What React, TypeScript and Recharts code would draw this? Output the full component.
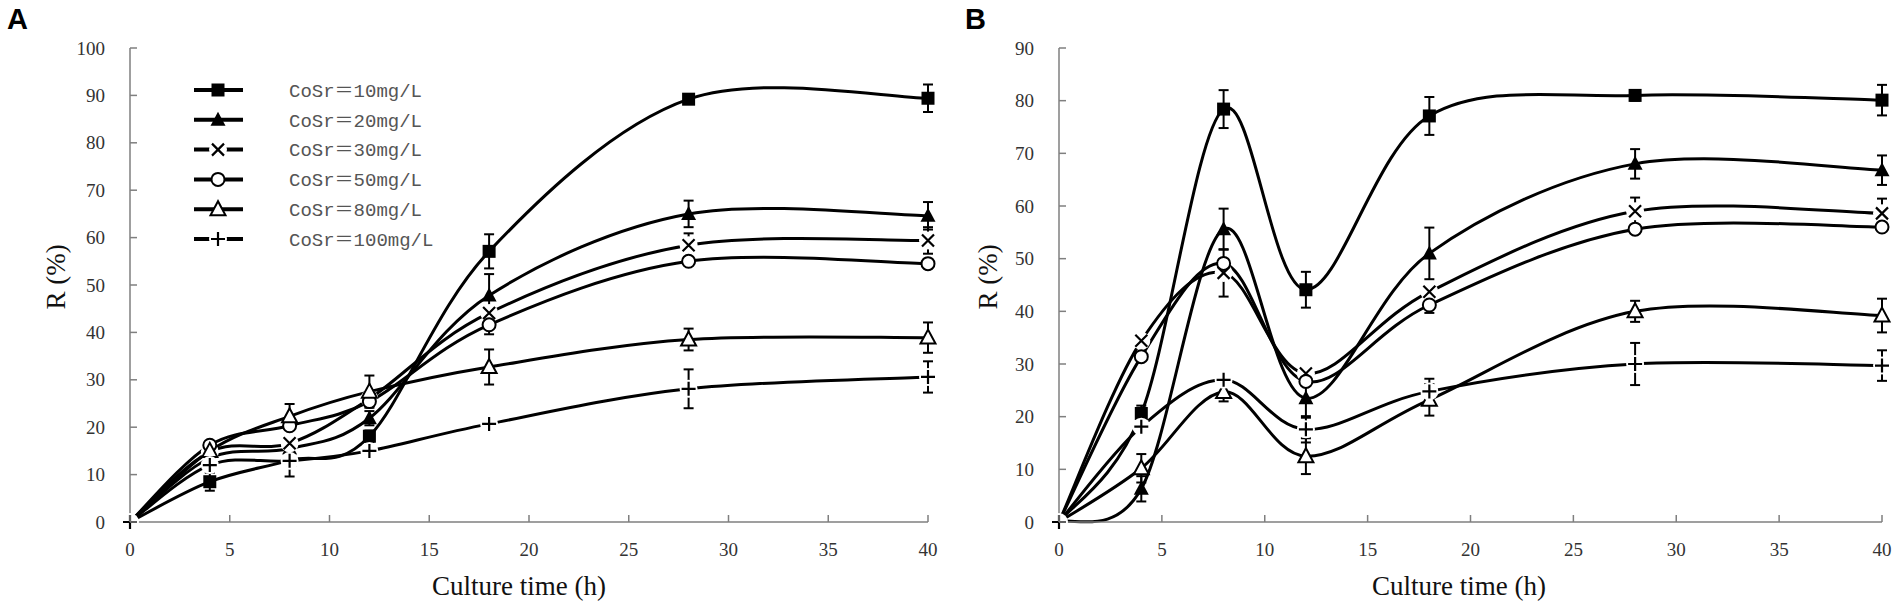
import React from 'react';
import { LineChart, Line, XAxis, YAxis, ErrorBar, Legend } from 'recharts';

// ---------- data ----------
const times = [0, 4, 8, 12, 18, 28, 40];
const xTicks = [0, 5, 10, 15, 20, 25, 30, 35, 40];
const yTicksA = [0, 10, 20, 30, 40, 50, 60, 70, 80, 90, 100];
const yTicksB = [0, 10, 20, 30, 40, 50, 60, 70, 80, 90];
const seriesNames = ['CoSr＝10mg/L', 'CoSr＝20mg/L', 'CoSr＝30mg/L', 'CoSr＝50mg/L', 'CoSr＝80mg/L', 'CoSr＝100mg/L'];
const markerKinds = ['square', 'triangle', 'cross', 'circle', 'openTriangle', 'plus'];

// Panel A
const a10 = [0, 8.5, 13, 18.1, 57.1, 89.2, 89.4];
const a10Err = [0, 1.9, 0, 1.2, 3.6, 1.0, 2.9];
const a20 = [0, 13.5, 15.5, 21.9, 47.8, 65.0, 64.6];
const a20Err = [0, 0, 0, 1.5, 4.5, 2.8, 2.9];
const a30 = [0, 14.8, 16.6, 26.0, 44.1, 58.4, 59.4];
const a30Err = [0, 0, 0, 0, 0, 2.5, 2.8];
const a50 = [0, 16.2, 20.3, 25.4, 41.6, 55.0, 54.5];
const a50Err = [0, 0, 0, 0, 2.0, 0.5, 1.0];
const a80 = [0, 15.0, 22.3, 27.5, 32.7, 38.5, 38.9];
const a80Err = [0, 0, 2.6, 3.4, 3.7, 2.3, 3.2];
const a100 = [0, 12.0, 12.9, 15.0, 20.7, 28.1, 30.6];
const a100Err = [0, 0, 3.3, 0, 0, 4.1, 3.3];

// Panel B
const b10 = [0, 20.6, 78.4, 44.1, 77.1, 81.0, 80.1];
const b10Err = [0, 1.5, 3.6, 3.4, 3.6, 1.0, 2.9];
const b20 = [0, 6.3, 55.6, 23.5, 51.0, 68.0, 66.8];
const b20Err = [0, 2.4, 3.9, 3.7, 4.9, 2.8, 2.8];
const b30 = [0, 34.4, 47.3, 28.2, 43.7, 59.0, 58.6];
const b30Err = [0, 0, 4.5, 0, 0, 2.6, 2.8];
const b50 = [0, 31.4, 49.1, 26.7, 41.2, 55.6, 56.0];
const b50Err = [0, 0, 0, 0, 1.5, 0, 0];
const b80 = [0, 10.2, 24.7, 12.5, 23.2, 40.0, 39.2];
const b80Err = [0, 2.7, 1.8, 3.4, 3.0, 2.0, 3.2];
const b100 = [0, 18.1, 27.0, 17.6, 24.8, 30.0, 29.7];
const b100Err = [0, 0, 0, 2.5, 2.4, 4.0, 2.9];

const panelAValues = [a10, a20, a30, a50, a80, a100];
const panelAErrors = [a10Err, a20Err, a30Err, a50Err, a80Err, a100Err];
const panelBValues = [b10, b20, b30, b50, b80, b100];
const panelBErrors = [b10Err, b20Err, b30Err, b50Err, b80Err, b100Err];

function buildRows(values: number[][], errors: number[][]) {
  return times.map((t, i) => {
    const row: any = { t };
    values.forEach((v, k) => {
      row['s' + k] = v[i];
      row['e' + k] = errors[k][i];
    });
    return row;
  });
}

const rowsA = buildRows(panelAValues, panelAErrors);
const rowsB = buildRows(panelBValues, panelBErrors);

// ---------- smooth curve (Excel-like Catmull-Rom) ----------
const smoothCurve: any = (context: any) => {
  let xs: number[] = [];
  let ys: number[] = [];
  return {
    areaStart() {},
    areaEnd() {},
    lineStart() {
      xs = [];
      ys = [];
    },
    point(x: number, y: number) {
      xs.push(+x);
      ys.push(+y);
    },
    lineEnd() {
      const n = xs.length;
      if (!n) return;
      context.moveTo(xs[0], ys[0]);
      for (let i = 0; i < n - 1; i++) {
        const p0 = Math.max(i - 1, 0);
        const p3 = Math.min(i + 2, n - 1);
        const c1x = xs[i] + (xs[i + 1] - xs[p0]) / 6;
        const c1y = ys[i] + (ys[i + 1] - ys[p0]) / 6;
        const c2x = xs[i + 1] - (xs[p3] - xs[i]) / 6;
        const c2y = ys[i + 1] - (ys[p3] - ys[i]) / 6;
        context.bezierCurveTo(c1x, c1y, c2x, c2y, xs[i + 1], ys[i + 1]);
      }
    },
  };
};

// ---------- markers ----------
const INK = '#000';

function Marker({ kind, cx, cy }: { kind: string; cx: number; cy: number }) {
  switch (kind) {
    case 'square':
      return <rect x={cx - 6.5} y={cy - 6.5} width={13} height={13} fill={INK} />;
    case 'triangle':
      return <polygon points={`${cx},${cy - 8} ${cx - 7.5},${cy + 6} ${cx + 7.5},${cy + 6}`} fill={INK} />;
    case 'cross':
      return (
        <g>
          <circle cx={cx} cy={cy} r={9} fill="#fff" />
          <path d={`M${cx - 6},${cy - 6}L${cx + 6},${cy + 6}M${cx - 6},${cy + 6}L${cx + 6},${cy - 6}`} stroke={INK} strokeWidth={2.2} />
        </g>
      );
    case 'circle':
      return <circle cx={cx} cy={cy} r={6.5} fill="#fff" stroke={INK} strokeWidth={2} />;
    case 'openTriangle':
      return (
        <polygon
          points={`${cx},${cy - 8} ${cx - 7.5},${cy + 6} ${cx + 7.5},${cy + 6}`}
          fill="#fff"
          stroke={INK}
          strokeWidth={2}
          strokeLinejoin="miter"
        />
      );
    case 'plus':
    default:
      return (
        <g>
          <circle cx={cx} cy={cy} r={9} fill="#fff" />
          <path d={`M${cx - 7},${cy}H${cx + 7}M${cx},${cy - 7}V${cy + 7}`} stroke={INK} strokeWidth={2.2} />
        </g>
      );
  }
}

// ---------- axis ticks ----------
const AXIS_COLOR = '#7f7f7f';
const TICK_FONT = "'Liberation Serif', 'Times New Roman', serif";
const Y_TICK_MARGIN = 25;
const X_TICK_MARGIN = 21;

const YTick = (props: any) => {
  const { x, y, payload } = props;
  const ax = x + Y_TICK_MARGIN;
  return (
    <g>
      <line x1={ax} x2={ax + 7} y1={y} y2={y} stroke={AXIS_COLOR} strokeWidth={1.5} />
      <text x={x} y={y} dy="0.35em" textAnchor="end" fontFamily={TICK_FONT} fontSize={19} fill="#333">
        {payload.value}
      </text>
    </g>
  );
};

const XTick = (props: any) => {
  const { x, y, payload } = props;
  const ay = y - X_TICK_MARGIN;
  return (
    <g>
      <line x1={x} x2={x} y1={ay} y2={ay - 7} stroke={AXIS_COLOR} strokeWidth={1.5} />
      <text x={x} y={y} dy="0.71em" textAnchor="middle" fontFamily={TICK_FONT} fontSize={19} fill="#333">
        {payload.value}
      </text>
    </g>
  );
};

// ---------- legend ----------
const LegendBox = () => (
  <svg width={260} height={185} style={{ display: 'block' }}>
    {seriesNames.map((name, k) => {
      const cy = 15 + k * 29.8;
      return (
        <g key={name}>
          <line x1={4} x2={53} y1={cy} y2={cy} stroke={INK} strokeWidth={4} />
          <Marker kind={markerKinds[k]} cx={28} cy={cy} />
          <text
            x={99}
            y={cy}
            dy="0.36em"
            fontFamily="'Liberation Mono', 'Noto Sans CJK SC', monospace"
            fontSize={19}
            fill="#555"
          >
            {name}
          </text>
        </g>
      );
    })}
  </svg>
);

// ---------- panel ----------
function Panel({
  rows,
  yMax,
  yTicks,
  marginLeft,
  marginRight,
  letter,
  letterX,
  yLabelX,
  xLabelX,
  showLegend,
}: any) {
  return (
    <LineChart
      width={951}
      height={615}
      data={rows}
      margin={{ top: 48, right: marginRight, bottom: 63, left: marginLeft }}
    >
      <XAxis
        dataKey="t"
        type="number"
        domain={[0, 40]}
        ticks={xTicks}
        interval={0}
        height={30}
        tickSize={0}
        tickMargin={X_TICK_MARGIN}
        tickLine={false}
        axisLine={{ stroke: AXIS_COLOR, strokeWidth: 1.5 }}
        tick={<XTick />}
        label={{
          content: () => (
            <text
              x={xLabelX}
              y={595}
              textAnchor="middle"
              fontFamily={TICK_FONT}
              fontSize={27}
              fill="#111"
            >
              Culture time (h)
            </text>
          ),
        }}
      />
      <YAxis
        type="number"
        domain={[0, yMax]}
        ticks={yTicks}
        interval={0}
        width={60}
        tickSize={0}
        tickMargin={Y_TICK_MARGIN}
        tickLine={false}
        axisLine={{ stroke: AXIS_COLOR, strokeWidth: 1.5 }}
        tick={<YTick />}
        label={{
          content: () => (
            <g>
              <text
                transform={`translate(${yLabelX},277) rotate(-90)`}
                textAnchor="middle"
                dy="0.35em"
                fontFamily={TICK_FONT}
                fontSize={27}
                fill="#111"
              >
                R (%)
              </text>
              <text
                x={letterX}
                y={29}
                fontFamily="'Liberation Sans', Arial, sans-serif"
                fontWeight="bold"
                fontSize={29}
                fill="#000"
              >
                {letter}
              </text>
            </g>
          ),
        }}
      />
      {showLegend && (
        <Legend
          layout="horizontal"
          verticalAlign="middle"
          align="center"
          content={() => <LegendBox />}
          wrapperStyle={{ left: 190, top: 75, width: 260, height: 185 }}
        />
      )}
      {markerKinds.map((kind, k) => (
        <Line
          key={kind}
          dataKey={'s' + k}
          name={seriesNames[k]}
          type={smoothCurve}
          stroke={INK}
          strokeWidth={3}
          isAnimationActive={false}
          activeDot={false}
          dot={(p: any) =>
            kind !== 'plus' && p.index === 0 ? (
              <g key={`d${k}-${p.index}`} />
            ) : (
              <g key={`d${k}-${p.index}`}>
                <Marker kind={kind} cx={p.cx} cy={p.cy} />
              </g>
            )
          }
        >
          <ErrorBar
            dataKey={'e' + k}
            width={5}
            strokeWidth={2}
            stroke={INK}
            direction="y"
            isAnimationActive={false}
          />
        </Line>
      ))}
    </LineChart>
  );
}

export default function App() {
  return (
    <div style={{ position: 'absolute', left: 0, top: 0, width: 1902, height: 615, background: '#fff' }}>
      <div style={{ position: 'absolute', left: 0, top: 0 }}>
        <Panel
          rows={rowsA}
          yMax={100}
          yTicks={yTicksA}
          marginLeft={70}
          marginRight={23}
          letter="A"
          letterX={7}
          yLabelX={56}
          xLabelX={519}
          showLegend
        />
      </div>
      <div style={{ position: 'absolute', left: 951, top: 0 }}>
        <Panel
          rows={rowsB}
          yMax={90}
          yTicks={yTicksB}
          marginLeft={48}
          marginRight={20}
          letter="B"
          letterX={14}
          yLabelX={37}
          xLabelX={508}
          showLegend={false}
        />
      </div>
    </div>
  );
}
